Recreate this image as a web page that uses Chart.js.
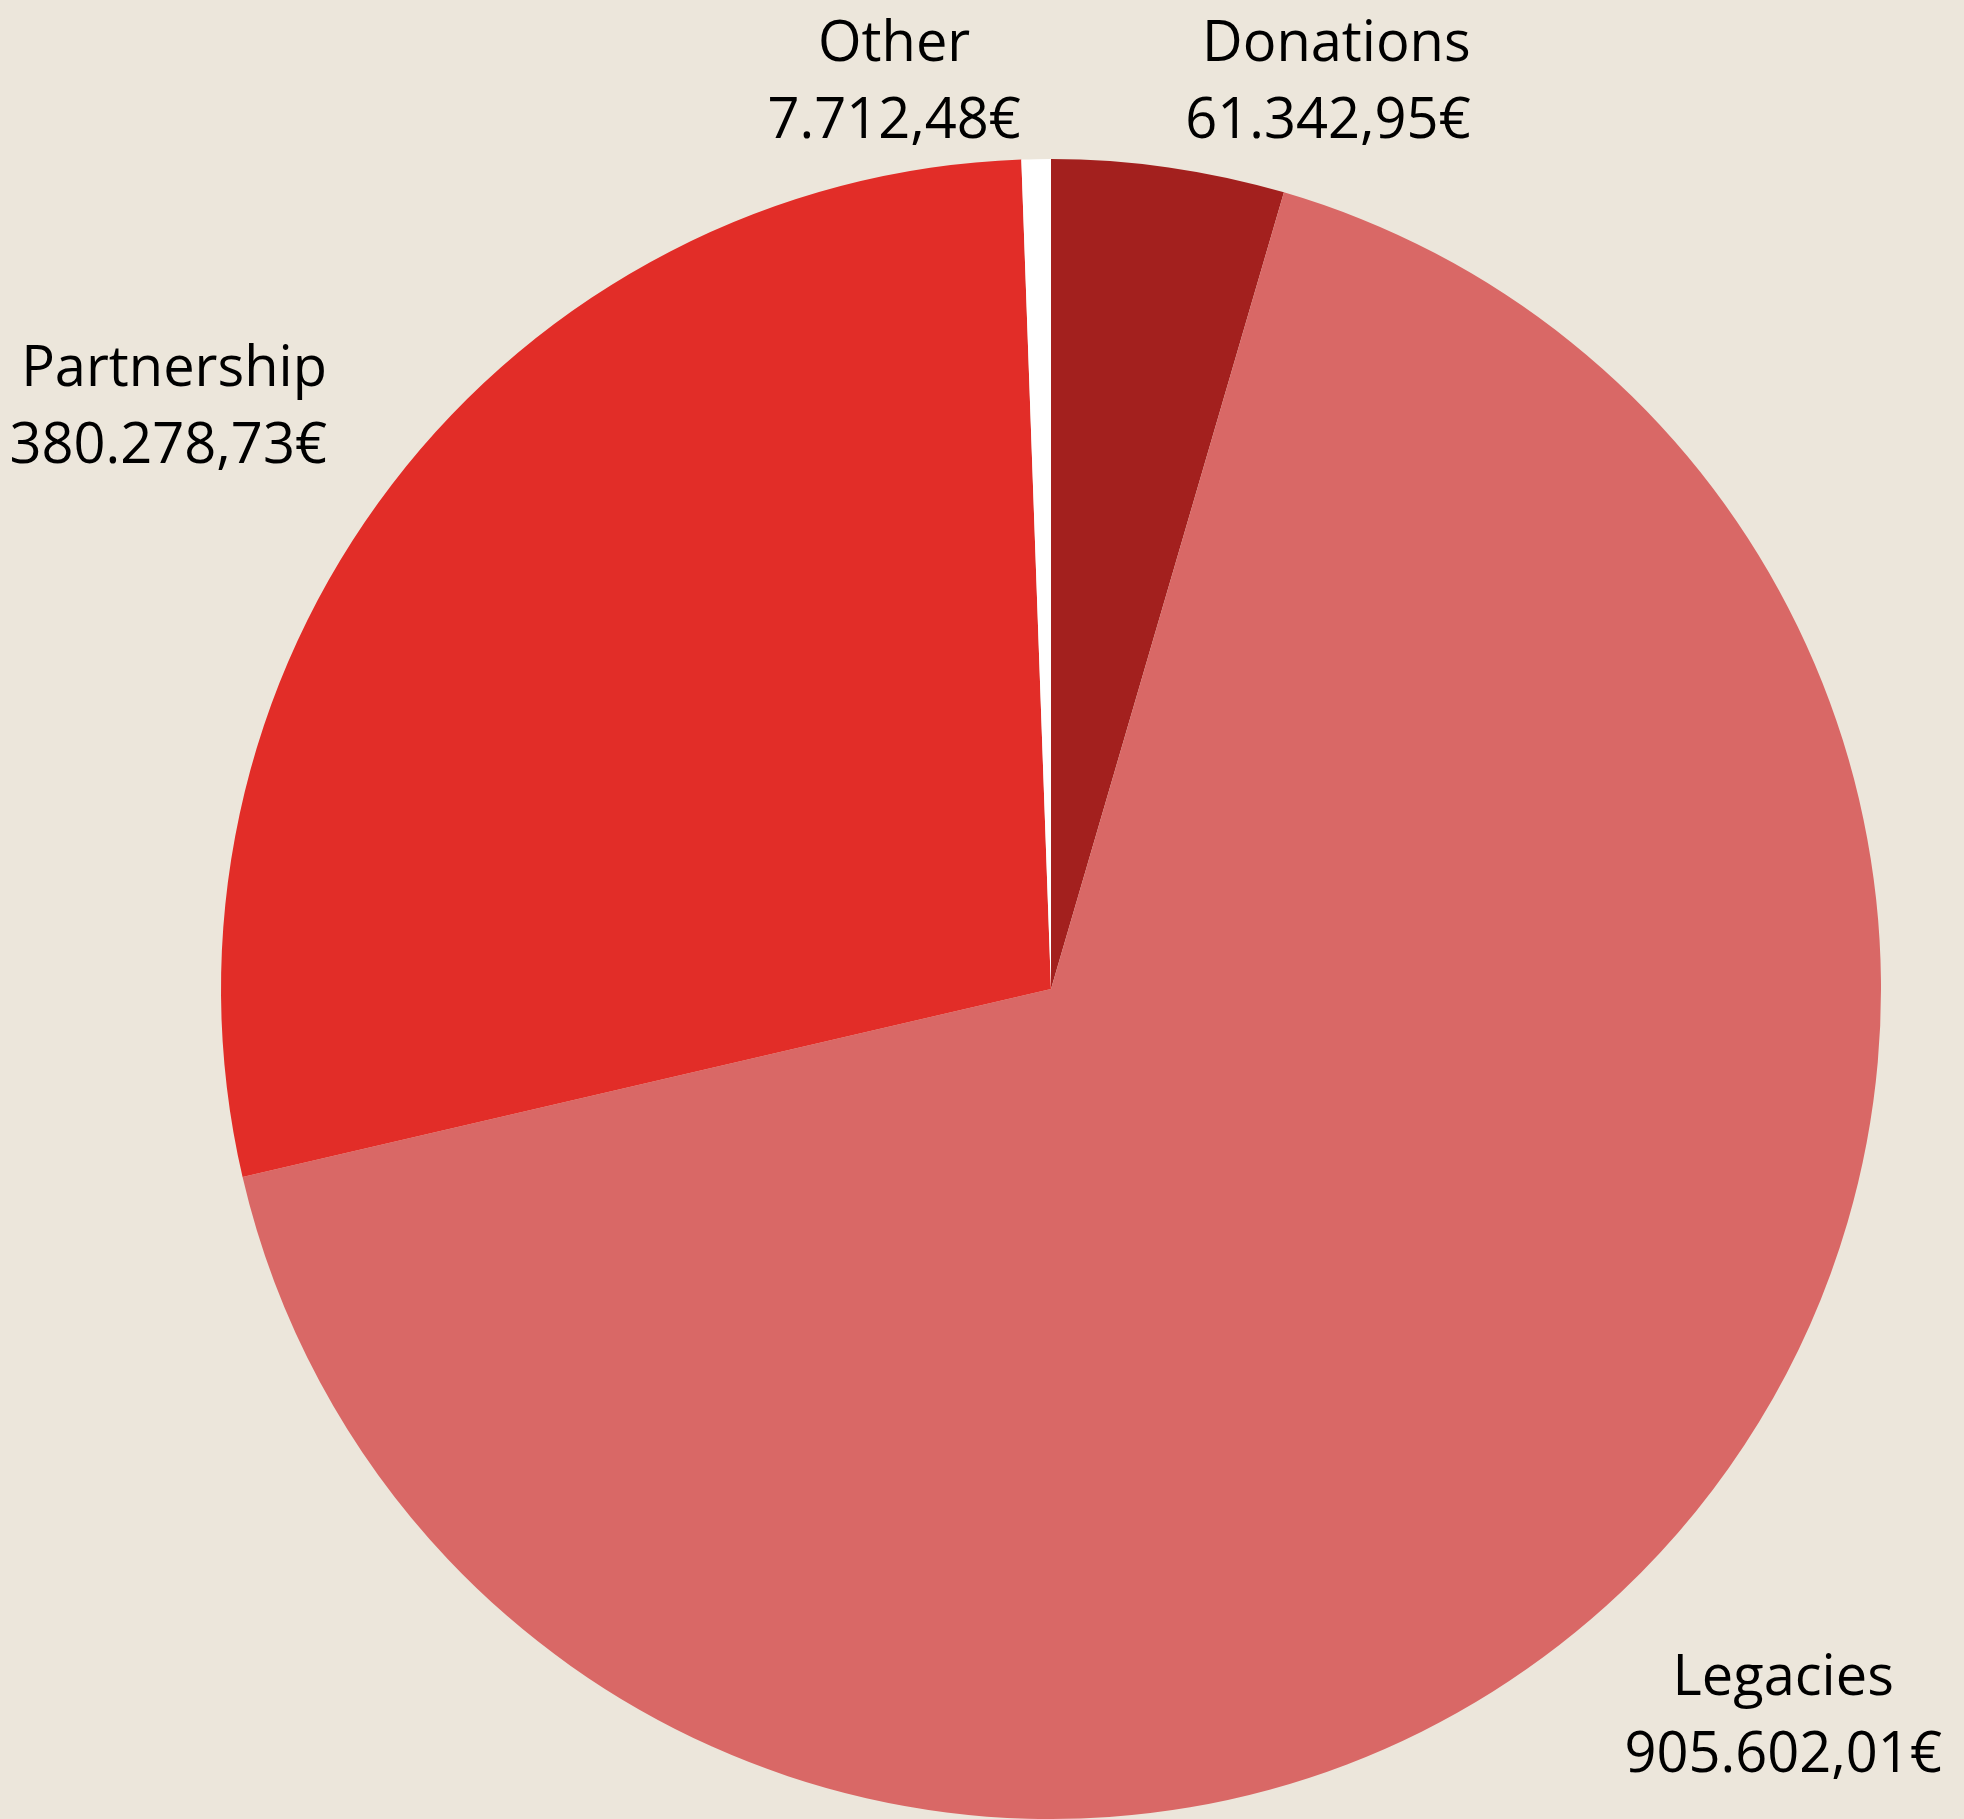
<!DOCTYPE html>
<html>
<head>
<meta charset="utf-8">
<script src="https://cdn.jsdelivr.net/npm/chart.js@4/dist/chart.umd.min.js"></script>
<style>
  html, body { margin: 0; padding: 0; background: #ECE6DB; }
  #wrap { width: 1964px; height: 1819px; position: relative; }
</style>
</head>
<body>
<div id="wrap"><canvas id="c" width="1964" height="1819"></canvas></div>
<script>
const categories = ["Donations", "Legacies", "Partnership", "Other"];
const values = [61342.95, 905602.01, 380278.73, 7712.48];
const valueLabels = ["61.342,95€", "905.602,01€", "380.278,73€", "7.712,48€"];
const colors = ["#A3201E", "#D96866", "#E22D28", "#FFFFFF"];

// label placement relative to each slice's outer mid-point (style only)
const labelStyle = [
  { align: "right",  dx: 302,  dy: -29 },
  { align: "center", dx: 162,  dy: 180 },
  { align: "right",  dx: -65,  dy: -22 },
  { align: "center", dx: -142, dy: -21 }
];

const labelPlugin = {
  id: "sliceLabels",
  afterDatasetsDraw(chart) {
    const ctx = chart.ctx;
    const meta = chart.getDatasetMeta(0);
    ctx.save();
    ctx.font = "56px 'Open Sans'";
    ctx.fillStyle = "#000000";
    ctx.textBaseline = "alphabetic";
    meta.data.forEach((arc, i) => {
      const p = arc.getProps(["x", "y", "startAngle", "endAngle", "outerRadius"], true);
      const mid = (p.startAngle + p.endAngle) / 2;
      const ax = p.x + Math.cos(mid) * p.outerRadius;
      const ay = p.y + Math.sin(mid) * p.outerRadius;
      const s = labelStyle[i];
      ctx.textAlign = s.align;
      const x = ax + s.dx;
      const y = ay + s.dy;
      ctx.fillText(valueLabels[i], x, y);
      ctx.fillText(categories[i], x, y - 77);
    });
    ctx.restore();
  }
};

new Chart(document.getElementById("c"), {
  type: "pie",
  data: {
    labels: categories,
    datasets: [{
      data: values,
      backgroundColor: colors,
      borderWidth: 0,
      hoverOffset: 0
    }]
  },
  options: {
    responsive: false,
    animation: false,
    layout: { padding: { top: 159, bottom: 0, left: 138, right: 0 } },
    plugins: {
      legend: { display: false },
      tooltip: { enabled: false }
    }
  },
  plugins: [labelPlugin]
});
</script>
</body>
</html>
